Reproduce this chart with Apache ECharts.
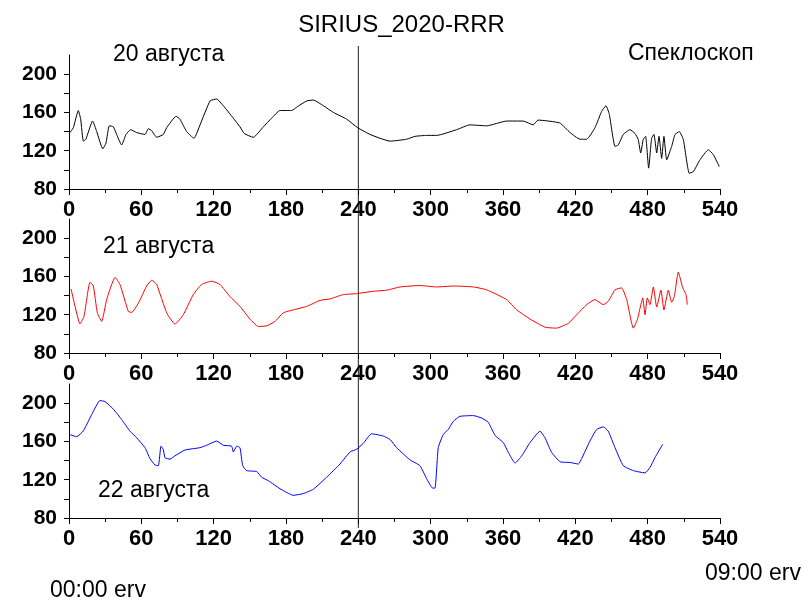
<!DOCTYPE html>
<html>
<head>
<meta charset="utf-8">
<script src="https://cdn.jsdelivr.net/npm/echarts@6/dist/echarts.min.js"></script>
<style>html,body{margin:0;padding:0;background:#fff}#c{width:803px;height:606px}</style>
</head>
<body>
<div id="c"></div>
<script>
// ---- data ----
const titleText = 'SIRIUS_2020-RRR';
const dayLabels = ['20 августа', '21 августа', '22 августа'];
const instrument = 'Спеклоскоп';
const startLabel = '00:00 erv';
const endLabel = '09:00 erv';
const xTicks = [0, 60, 120, 180, 240, 300, 360, 420, 480, 540];
const yTickLabels = [80, 120, 160, 200];
const yTicks = [80, 100, 120, 140, 160, 180, 200];
const markerX = 240;

const day20 = [[0.8,139],[3.6,144],[7.7,162],[9.7,153],[11.9,130],[14,132],[19.6,151],[23,140],[28,122],[30.7,128],[33.4,146],[36.8,145],[39.5,137],[43.7,126],[47.3,137],[51.2,142],[56,139],[63,137],[65.8,143],[68.6,141],[72.7,134],[78.2,137],[81,144],[88.8,156],[92,153],[97.6,140],[103.7,133],[108.7,147],[117,172],[122.5,174],[128,167],[136.3,154],[141.8,145],[145.4,138],[152.9,134],[161.2,145],[168.1,154],[175,162],[184.7,162],[189.4,166],[197.2,172],[202.6,173],[211,167],[219.3,160],[230.3,153],[239.5,144],[249.7,137],[258,133],[266.3,130],[280,132],[287,135],[296.7,136],[305,136],[321.6,142],[332.6,147],[346.5,146],[363,151],[376.8,151],[385,147],[389,152],[407,149],[415.6,139],[423.9,132],[429.4,132],[436.3,144],[441.8,161],[445.4,167],[448.2,158],[452.9,124.5],[455.6,126],[459.8,137],[465.3,142],[469.5,138],[472.2,131.6],[474.2,117.6],[476.4,132],[478.3,135],[480.8,101.8],[483.3,133],[485.2,137],[487.5,117.6],[489.4,135],[491.6,112],[493.5,135],[495.8,110.5],[499.9,124.5],[502.7,137],[506.2,140],[509.6,131.6],[514.5,96.5],[517.8,98],[523.4,110.5],[530.3,121],[534.4,116],[539.4,103.5]];

const day21 = [[1.7,147],[5,128.7],[9.1,110.5],[12.4,118],[17.4,154],[20.2,150],[23.5,122],[27.1,113],[31.3,136],[38.2,159],[42.3,151.6],[49.2,123.5],[52,122.4],[57.5,132],[64.4,150],[68.6,156],[72.7,151.6],[81,122],[87.9,110.2],[94.8,120],[103.1,141],[110,151.6],[118.4,155],[125.2,151.6],[133.5,139],[141.8,128.7],[150.1,115.5],[157,107.7],[164,108.4],[170.9,113],[177.8,122],[186,125],[197.2,128.7],[208.2,135],[216.5,136.5],[227.5,141],[238.6,142],[252.4,144.5],[263.5,145.6],[274.6,149],[291.1,150.5],[305,149],[318.8,150],[335.4,149],[346.5,146],[363,135.8],[371.4,125],[382.4,115.5],[394.8,107],[404.5,106],[414.2,111],[421.1,120],[429.4,130.5],[436.3,135.8],[443.2,130.5],[447.3,134],[452.9,146],[458.4,148],[462.6,135.8],[468.1,106],[471.4,114.7],[473.7,127],[475.9,137.6],[477.8,120],[479.7,137.6],[481.9,130.5],[484.7,149],[487.5,128],[491,145.6],[493.5,125],[497.1,145.6],[499.9,133],[502.1,139],[505.4,164.5],[509.1,148],[511.8,141],[512.9,130.5]];

const day22 = [[0.8,167],[6.4,165],[11.9,171],[18.8,188],[25.7,202.7],[29.9,201.6],[36.8,193.7],[43.7,182.8],[50.6,170.7],[56.2,163.8],[63,153.5],[67.2,142],[71.3,135.4],[74.1,134.6],[76.3,155],[78.2,151.8],[79.6,143],[83.8,141.5],[87.9,145],[96.2,151],[108.7,153.5],[114.2,156],[122.5,160.4],[128,156],[134.9,155],[136.3,149],[139.1,155],[141.8,153.5],[144.1,134.6],[147.4,129.5],[155.7,128.5],[159.8,122.6],[165.3,119],[175,110.6],[186,103.7],[194.3,105.5],[202.6,110],[213.7,122.6],[224.8,136.4],[233.1,149],[238.6,151.9],[244.1,158],[251,168],[260.7,165.6],[266.3,162],[271.8,153.5],[282.8,140.8],[291.1,134.6],[296.7,121],[301.7,111.2],[303.6,111.2],[306.3,153.5],[310.5,167.3],[314.6,172.5],[318.8,181],[324.3,186.2],[335.4,187],[342.3,184.4],[347.8,180],[353.4,166.3],[360.3,158.7],[364.5,148.4],[370,137.4],[375.6,145],[382.4,158.7],[390.7,170.7],[394.8,163.8],[400.4,148.4],[407.3,138.8],[415.6,138],[422.5,136.4],[425.3,142.2],[432.1,160.4],[437.7,172.5],[443.2,175.2],[447.3,170.7],[452.9,153.5],[459.8,134.6],[468.1,129.5],[477.8,127.1],[482,133],[486.1,143.2],[492.5,157]];

const seriesData = [day20, day21, day22];
const seriesColors = ['#000000', '#ff0000', '#0000ff'];

// ---- chart ----
const FONT = 'Liberation Sans, Arial, sans-serif';
const chart = echarts.init(document.getElementById('c'), null, {renderer: 'canvas'});
const gridTops = [55, 219, 384];
const gridH = 134;

const grids = gridTops.map(t => ({left: 69, right: 83, top: t, height: gridH, containLabel: false}));
const xAxes = gridTops.map((t, i) => ({
  type: 'value', gridIndex: i, min: 0, max: 540, interval: 60,
  axisLine: {show: true, onZero: false, lineStyle: {color: '#000', width: 1}},
  axisTick: {show: true, inside: false, length: 6, lineStyle: {color: '#000'}},
  minorTick: {show: true, splitNumber: 2, length: 4, lineStyle: {color: '#000'}},
  splitLine: {show: false},
  axisLabel: {show: true, margin: 10, color: '#000', fontSize: 22, fontWeight: 'bold', fontFamily: FONT,
    customValues: xTicks}
}));
const yAxes = gridTops.map((t, i) => ({
  type: 'value', gridIndex: i, min: 80, max: 220, interval: 20,
  axisLine: {show: true, onZero: false, lineStyle: {color: '#000', width: 1}},
  axisTick: {show: true, inside: false, length: 5, lineStyle: {color: '#000'}, customValues: yTicks},
  splitLine: {show: false},
  axisLabel: {show: true, margin: 12, color: '#000', fontSize: 21, fontWeight: 'bold', fontFamily: FONT,
    customValues: yTickLabels,
    formatter: v => (yTickLabels.indexOf(v) >= 0 ? String(v) : '')}
}));
const series = seriesData.map((d, i) => ({
  type: 'line', xAxisIndex: i, yAxisIndex: i, data: d, showSymbol: false, symbol: 'none',
  smooth: 0.15, lineStyle: {color: seriesColors[i], width: 1}, animation: false
}));

chart.setOption({
  animation: false,
  backgroundColor: '#fff',
  title: {text: titleText, left: 'center', top: 8,
    textStyle: {fontSize: 24, fontWeight: 'normal', color: '#000', fontFamily: FONT}},
  grid: grids, xAxis: xAxes, yAxis: yAxes, series: series
});

// vertical marker line + text labels, positioned through the chart's own coordinate system
const px = chart.convertToPixel({xAxisIndex: 0}, markerX);
const yTop = chart.convertToPixel({yAxisIndex: 0}, 220) - 9;
const yBot = chart.convertToPixel({yAxisIndex: 2}, 80) + 10;
const txt = (text, x, y, align) => ({type: 'text', x: x, y: y,
  style: {text: text, fill: '#000', font: '23px ' + FONT, textAlign: align || 'left', textVerticalAlign: 'middle'}});
chart.setOption({
  graphic: [
    {type: 'line', shape: {x1: px, y1: yTop, x2: px, y2: yBot}, style: {stroke: '#222', lineWidth: 1}},
    txt(dayLabels[0], 113, 55),
    txt(instrument, 628, 54),
    txt(dayLabels[1], 103, 247),
    txt(dayLabels[2], 98, 491),
    txt(startLabel, 50, 591),
    txt(endLabel, 705, 574)
  ]
});
</script>
</body>
</html>
